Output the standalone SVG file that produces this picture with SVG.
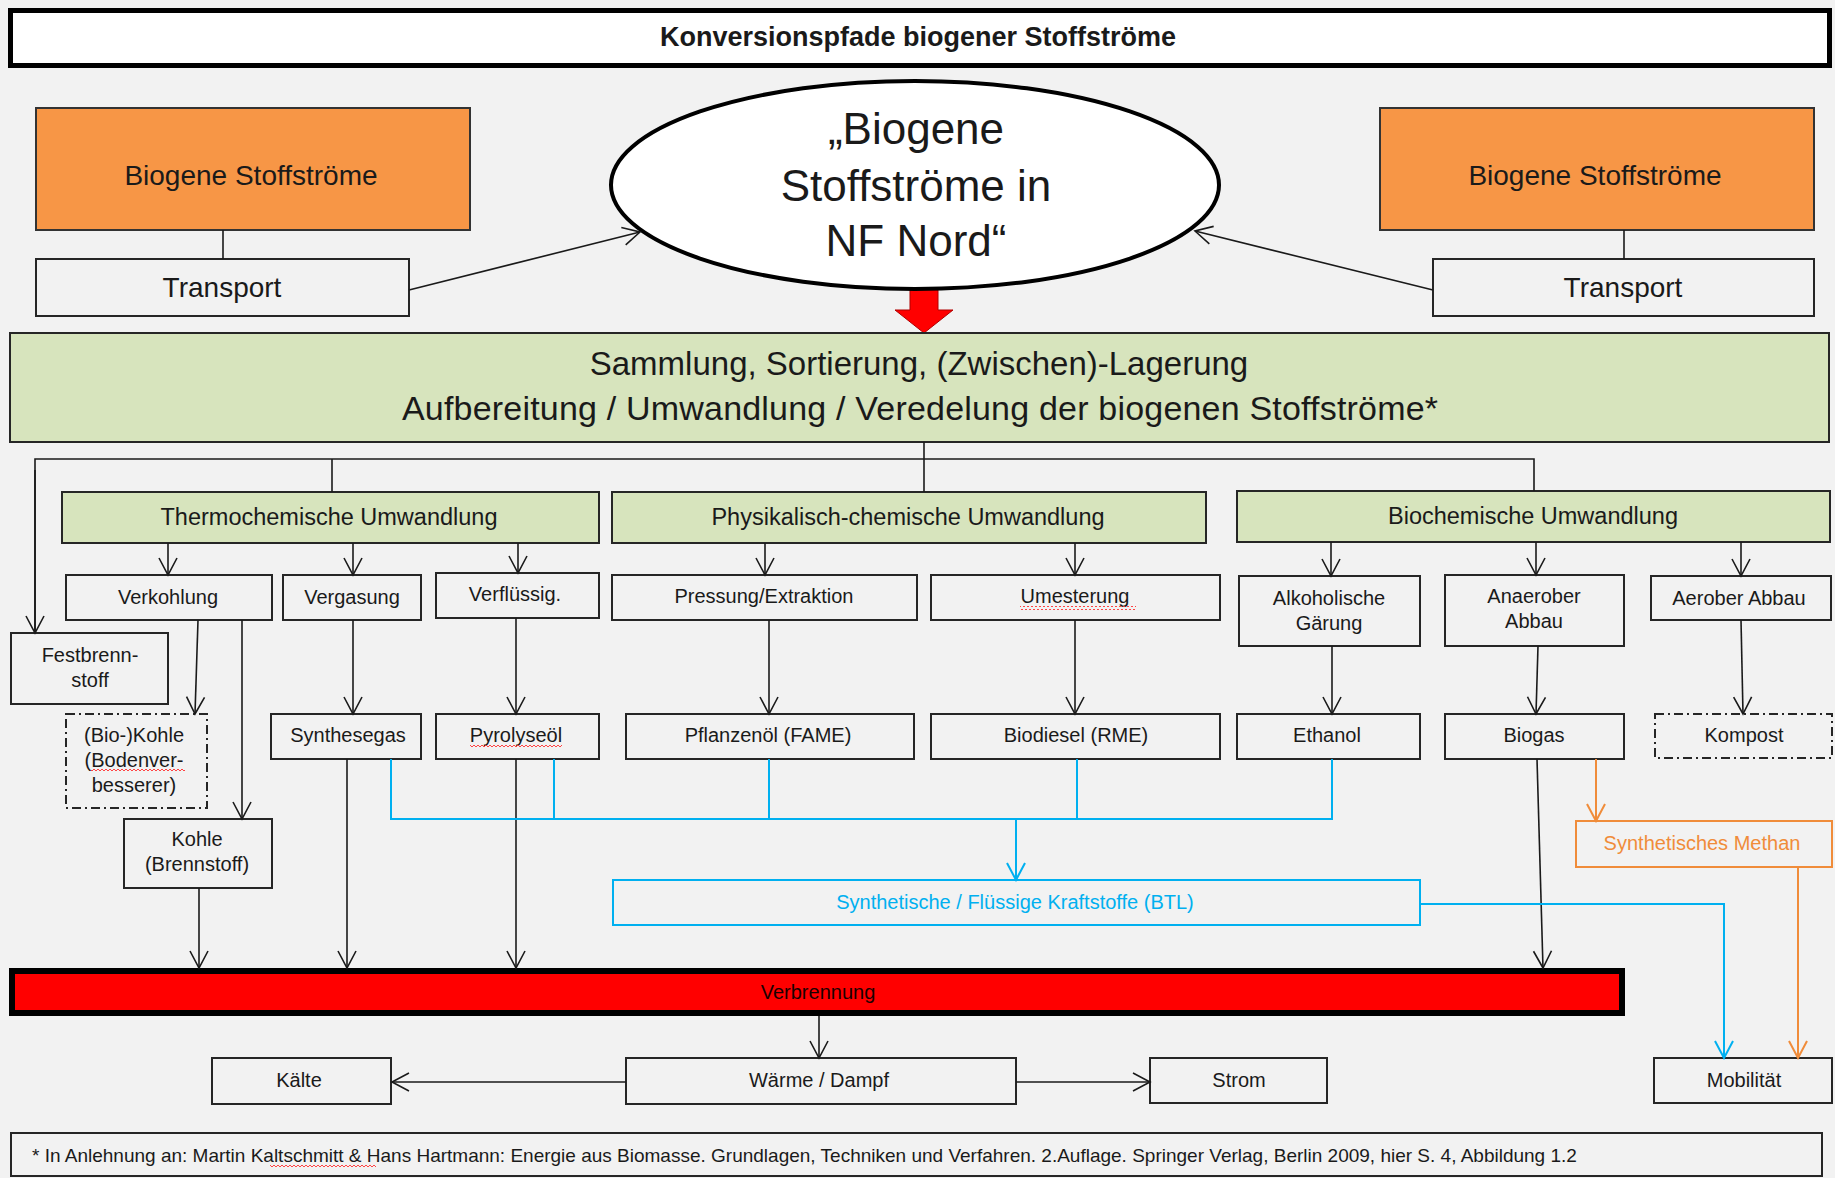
<svg xmlns="http://www.w3.org/2000/svg" width="1835" height="1178" viewBox="0 0 1835 1178">
<defs>
<style>
.t{font-family:"Liberation Sans",Arial,sans-serif;fill:#1a1a1a;text-anchor:middle}
.f20{font-size:20px}
.f23{font-size:23.5px}
.f28{font-size:28px}
.bx{fill:none;stroke:#262626;stroke-width:2}
.dd{fill:none;stroke:#262626;stroke-width:2;stroke-dasharray:9 4 2 4}
.grn{fill:#D7E4BD;stroke:#262626;stroke-width:2}
.org{fill:#F79646;stroke:#333333;stroke-width:2}
.ln{fill:none;stroke:#1a1a1a;stroke-width:1.6}
.bl{fill:none;stroke:#00B0F0;stroke-width:2}
.or{fill:none;stroke:#F08C3A;stroke-width:2}
</style>
<marker id="ab" viewBox="-2 -2 22 24" refX="18" refY="10" markerWidth="22" markerHeight="24" markerUnits="userSpaceOnUse" orient="auto"><path d="M1,1 L18,10 L1,19" fill="none" stroke="#1a1a1a" stroke-width="1.6"/></marker>
<marker id="abl" viewBox="-2 -2 22 24" refX="18" refY="10" markerWidth="22" markerHeight="24" markerUnits="userSpaceOnUse" orient="auto"><path d="M1,1 L18,10 L1,19" fill="none" stroke="#00B0F0" stroke-width="2"/></marker>
<marker id="aor" viewBox="-2 -2 22 24" refX="18" refY="10" markerWidth="22" markerHeight="24" markerUnits="userSpaceOnUse" orient="auto"><path d="M1,1 L18,10 L1,19" fill="none" stroke="#F08C3A" stroke-width="2"/></marker>
<pattern id="sq" width="4" height="4" patternUnits="userSpaceOnUse"><path d="M0,3 L2,1 L4,3" fill="none" stroke="#FF3030" stroke-width="0.9"/></pattern>
</defs>
<rect x="0" y="0" width="1835" height="1178" fill="#F2F2F2"/>

<g id="title">
<rect x="10.5" y="10.5" width="1819" height="55" fill="#FFFFFF" stroke="#000000" stroke-width="5"/>
<text class="t" x="918" y="46" font-size="27" font-weight="bold" fill="#000">Konversionspfade biogener Stoffströme</text>
</g>

<g id="red-arrow">
<polygon points="910,284 938,284 938,310 953,310 924,333 895,310 910,310" fill="#FF0000" stroke="#B00000" stroke-width="1"/>
</g>

<g id="ellipse-nf-nord">
<ellipse cx="915" cy="185" rx="304" ry="104" fill="#FFFFFF" stroke="#000000" stroke-width="4"/>
<text class="t" x="916" y="144" font-size="44" fill="#000">„Biogene</text>
<text class="t" x="916" y="201" font-size="44" fill="#000">Stoffströme in</text>
<text class="t" x="916" y="256" font-size="44" fill="#000">NF Nord“</text>
</g>

<g id="biogen-left">
<rect class="org" x="36" y="108" width="434" height="122"/>
<text class="t f28" x="251" y="185">Biogene Stoffströme</text>
</g>
<g id="biogen-right">
<rect class="org" x="1380" y="108" width="434" height="122"/>
<text class="t f28" x="1595" y="185">Biogene Stoffströme</text>
</g>
<g id="transport-left">
<rect class="bx" x="36" y="259" width="373" height="57"/>
<text class="t f28" x="222" y="297">Transport</text>
</g>
<g id="transport-right">
<rect class="bx" x="1433" y="259" width="381" height="57"/>
<text class="t f28" x="1623" y="297">Transport</text>
</g>

<g id="sammlung">
<rect class="grn" x="10" y="333" width="1819" height="109"/>
<text class="t" x="919" y="375" font-size="33">Sammlung, Sortierung, (Zwischen)-Lagerung</text>
<text class="t" x="920" y="420" font-size="34" textLength="1036" lengthAdjust="spacing">Aufbereitung / Umwandlung / Veredelung der biogenen Stoffströme*</text>
</g>

<g id="thermochemisch">
<rect class="grn" x="62" y="492" width="537" height="51"/>
<text class="t f23" x="329" y="525">Thermochemische Umwandlung</text>
</g>
<g id="physikalisch">
<rect class="grn" x="612" y="492" width="594" height="51"/>
<text class="t f23" x="908" y="525">Physikalisch-chemische Umwandlung</text>
</g>
<g id="biochemisch">
<rect class="grn" x="1237" y="491" width="593" height="51"/>
<text class="t f23" x="1533" y="524">Biochemische Umwandlung</text>
</g>

<g id="verkohlung">
<rect class="bx" x="66" y="575" width="206" height="45"/>
<text class="t f20" x="168" y="604">Verkohlung</text>
</g>
<g id="vergasung">
<rect class="bx" x="283" y="575" width="138" height="45"/>
<text class="t f20" x="352" y="604">Vergasung</text>
</g>
<g id="verfluessig">
<rect class="bx" x="436" y="573" width="163" height="45"/>
<text class="t f20" x="515" y="601">Verflüssig.</text>
</g>
<g id="festbrennstoff">
<rect class="bx" x="11" y="633" width="157" height="71"/>
<text class="t f20" x="90" y="662">Festbrenn-</text>
<text class="t f20" x="90" y="687">stoff</text>
</g>
<g id="biokohle">
<rect class="dd" x="66" y="714" width="141" height="94"/>
<text class="t f20" x="134" y="742">(Bio-)Kohle</text>
<text class="t f20" x="134" y="767">(Bodenver-</text>
<text class="t f20" x="134" y="792">besserer)</text>
<rect x="91" y="769" width="94" height="4" fill="url(#sq)"/>
</g>
<g id="kohle">
<rect class="bx" x="124" y="819" width="148" height="69"/>
<text class="t f20" x="197" y="846">Kohle</text>
<text class="t f20" x="197" y="871">(Brennstoff)</text>
</g>
<g id="synthesegas">
<rect class="bx" x="271" y="714" width="150" height="45"/>
<text class="t f20" x="348" y="742">Synthesegas</text>
</g>
<g id="pyrolyseoel">
<rect class="bx" x="436" y="714" width="163" height="45"/>
<text class="t f20" x="516" y="742">Pyrolyseöl</text>
<rect x="470" y="745" width="92" height="4" fill="url(#sq)"/>
</g>
<g id="pressung">
<rect class="bx" x="612" y="575" width="305" height="45"/>
<text class="t f20" x="764" y="603">Pressung/Extraktion</text>
</g>
<g id="umesterung">
<rect class="bx" x="931" y="575" width="289" height="45"/>
<text class="t f20" x="1075" y="603">Umesterung</text>
<rect x="1020" y="606" width="116" height="4" fill="url(#sq)"/>
</g>
<g id="pflanzenoel">
<rect class="bx" x="626" y="714" width="288" height="45"/>
<text class="t f20" x="768" y="742">Pflanzenöl (FAME)</text>
</g>
<g id="biodiesel">
<rect class="bx" x="931" y="714" width="289" height="45"/>
<text class="t f20" x="1076" y="742">Biodiesel (RME)</text>
</g>
<g id="alkoholisch">
<rect class="bx" x="1239" y="576" width="181" height="70"/>
<text class="t f20" x="1329" y="605">Alkoholische</text>
<text class="t f20" x="1329" y="630">Gärung</text>
</g>
<g id="anaerob">
<rect class="bx" x="1445" y="575" width="179" height="71"/>
<text class="t f20" x="1534" y="603">Anaerober</text>
<text class="t f20" x="1534" y="628">Abbau</text>
</g>
<g id="aerob">
<rect class="bx" x="1651" y="576" width="180" height="44"/>
<text class="t f20" x="1739" y="605">Aerober Abbau</text>
</g>
<g id="ethanol">
<rect class="bx" x="1237" y="714" width="183" height="45"/>
<text class="t f20" x="1327" y="742">Ethanol</text>
</g>
<g id="biogas">
<rect class="bx" x="1445" y="714" width="179" height="45"/>
<text class="t f20" x="1534" y="742">Biogas</text>
</g>
<g id="kompost">
<rect class="dd" x="1655" y="714" width="177" height="44"/>
<text class="t f20" x="1744" y="742">Kompost</text>
</g>
<g id="methan">
<rect x="1576" y="821" width="256" height="46" fill="none" stroke="#F08C3A" stroke-width="2"/>
<text class="t f20" x="1702" y="850" style="fill:#F08C3A">Synthetisches Methan</text>
</g>
<g id="btl">
<rect x="613" y="880" width="807" height="45" fill="none" stroke="#00B0F0" stroke-width="2"/>
<text class="t f20" x="1015" y="909" style="fill:#00B0F0">Synthetische / Flüssige Kraftstoffe (BTL)</text>
</g>
<g id="verbrennung">
<rect x="12" y="971" width="1610" height="42" fill="#FF0000" stroke="#000000" stroke-width="6"/>
<text class="t f20" x="818" y="999" style="fill:#1a0000">Verbrennung</text>
</g>
<g id="kaelte">
<rect class="bx" x="212" y="1058" width="179" height="46"/>
<text class="t f20" x="299" y="1087">Kälte</text>
</g>
<g id="waerme">
<rect class="bx" x="626" y="1058" width="390" height="46"/>
<text class="t f20" x="819" y="1087">Wärme / Dampf</text>
</g>
<g id="strom">
<rect class="bx" x="1150" y="1058" width="177" height="45"/>
<text class="t f20" x="1239" y="1087">Strom</text>
</g>
<g id="mobilitaet">
<rect class="bx" x="1654" y="1058" width="178" height="45"/>
<text class="t f20" x="1744" y="1087">Mobilität</text>
</g>
<g id="footer">
<rect class="bx" x="11" y="1133" width="1811" height="43"/>
<text class="t" x="32" y="1162" font-size="19" style="text-anchor:start">* In Anlehnung an: Martin Kaltschmitt &amp; Hans Hartmann: Energie aus Biomasse. Grundlagen, Techniken und Verfahren. 2.Auflage. Springer Verlag, Berlin 2009, hier S. 4, Abbildung 1.2</text>
<rect x="270" y="1164" width="106" height="4" fill="url(#sq)"/>
</g>

<g id="connectors">
<line class="ln" x1="223" y1="230" x2="223" y2="259"/>
<line class="ln" x1="1624" y1="230" x2="1624" y2="259"/>
<line class="ln" x1="409" y1="290" x2="640" y2="232" marker-end="url(#ab)"/>
<line class="ln" x1="1433" y1="290" x2="1195" y2="231" marker-end="url(#ab)"/>
<line class="ln" x1="924" y1="442" x2="924" y2="492"/>
<polyline class="ln" points="35,633 35,459 1534,459 1534,491"/>
<line class="ln" x1="35" y1="470" x2="35" y2="633" marker-end="url(#ab)"/>
<line class="ln" x1="332" y1="459" x2="332" y2="492"/>
<line class="ln" x1="168" y1="543" x2="168" y2="575" marker-end="url(#ab)"/>
<line class="ln" x1="353" y1="543" x2="353" y2="575" marker-end="url(#ab)"/>
<line class="ln" x1="518" y1="543" x2="518" y2="573" marker-end="url(#ab)"/>
<line class="ln" x1="198" y1="620" x2="195" y2="714" marker-end="url(#ab)"/>
<line class="ln" x1="242" y1="620" x2="242" y2="819" marker-end="url(#ab)"/>
<line class="ln" x1="353" y1="620" x2="353" y2="714" marker-end="url(#ab)"/>
<line class="ln" x1="516" y1="618" x2="516" y2="714" marker-end="url(#ab)"/>
<line class="ln" x1="765" y1="543" x2="765" y2="575" marker-end="url(#ab)"/>
<line class="ln" x1="1075" y1="543" x2="1075" y2="575" marker-end="url(#ab)"/>
<line class="ln" x1="769" y1="620" x2="769" y2="714" marker-end="url(#ab)"/>
<line class="ln" x1="1075" y1="620" x2="1075" y2="714" marker-end="url(#ab)"/>
<line class="ln" x1="1331" y1="542" x2="1331" y2="576" marker-end="url(#ab)"/>
<line class="ln" x1="1536" y1="542" x2="1536" y2="575" marker-end="url(#ab)"/>
<line class="ln" x1="1741" y1="542" x2="1741" y2="576" marker-end="url(#ab)"/>
<line class="ln" x1="1332" y1="646" x2="1332" y2="714" marker-end="url(#ab)"/>
<line class="ln" x1="1538" y1="646" x2="1536" y2="714" marker-end="url(#ab)"/>
<line class="ln" x1="1741" y1="620" x2="1743" y2="714" marker-end="url(#ab)"/>
<line class="ln" x1="199" y1="888" x2="199" y2="968" marker-end="url(#ab)"/>
<line class="ln" x1="347" y1="759" x2="347" y2="968" marker-end="url(#ab)"/>
<line class="ln" x1="516" y1="759" x2="516" y2="968" marker-end="url(#ab)"/>
<line class="ln" x1="1537" y1="759" x2="1543" y2="968" marker-end="url(#ab)"/>
<polyline class="bl" points="391,759 391,819 1332,819 1332,759"/>
<line class="bl" x1="554" y1="759" x2="554" y2="819"/>
<line class="bl" x1="769" y1="759" x2="769" y2="819"/>
<line class="bl" x1="1077" y1="759" x2="1077" y2="819"/>
<line class="bl" x1="1016" y1="819" x2="1016" y2="880" marker-end="url(#abl)"/>
<polyline class="bl" points="1420,904 1724,904 1724,1058" marker-end="url(#abl)"/>
<line class="or" x1="1596" y1="759" x2="1596" y2="821" marker-end="url(#aor)"/>
<line class="or" x1="1798" y1="867" x2="1798" y2="1058" marker-end="url(#aor)"/>
<line class="ln" x1="819" y1="1016" x2="819" y2="1058" marker-end="url(#ab)"/>
<line class="ln" x1="626" y1="1082" x2="392" y2="1082" marker-end="url(#ab)"/>
<line class="ln" x1="1016" y1="1082" x2="1150" y2="1082" marker-end="url(#ab)"/>
</g>
</svg>
